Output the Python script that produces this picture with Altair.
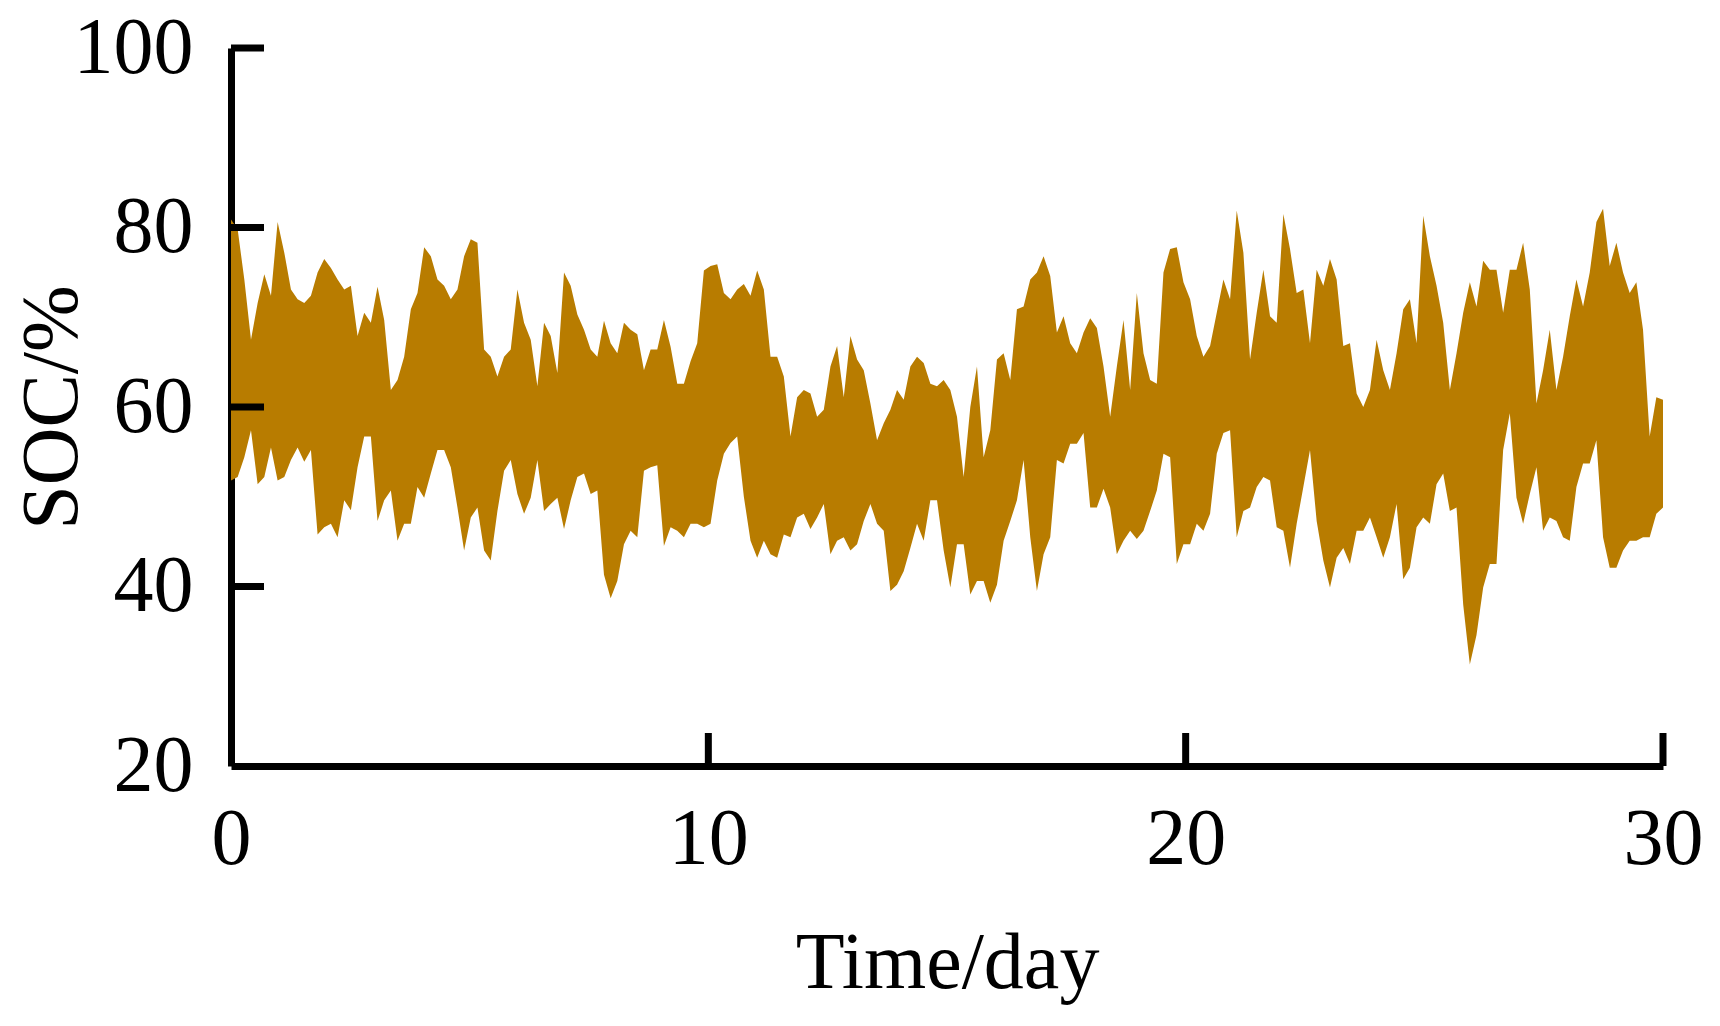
import altair as alt
import numpy as np
import pandas as pd

# Upper and lower envelope of the (very dense) SOC trace
soc_upper = [
    80.9, 79.8, 74.2, 67.5, 71.6, 74.8, 72.4, 80.6, 77.2, 73.1, 72.0, 71.6, 72.4, 75.0, 76.5, 75.5, 74.2, 73.1,
    73.5, 67.9, 70.5, 69.4, 73.4, 69.7, 61.9, 63.0, 65.6, 70.9, 72.7, 77.8, 76.8, 74.2, 73.5, 72.0, 73.1, 76.8,
    78.7, 78.3, 66.4, 65.6, 63.4, 65.6, 66.4, 73.1, 69.4, 67.5, 62.3, 69.4, 67.9, 63.8, 75.0, 73.5, 70.3, 68.6,
    66.4, 65.6, 69.6, 67.1, 66.0, 69.4, 68.6, 68.1, 64.1, 66.4, 66.4, 69.7, 66.7, 62.6, 62.6, 65.1, 67.1, 75.2,
    75.7, 75.9, 72.7, 72.0, 73.1, 73.7, 72.4, 75.2, 73.1, 65.6, 65.6, 63.4, 56.7, 61.1, 61.9, 61.5, 58.9, 59.7,
    64.5, 66.8, 61.1, 67.9, 65.3, 64.1, 60.4, 56.3, 58.2, 59.7, 61.9, 60.8, 64.5, 65.6, 64.9, 62.6, 62.3, 63.0,
    61.9, 58.9, 52.2, 60.0, 64.5, 54.4, 57.4, 65.3, 66.0, 63.0, 70.9, 71.2, 74.2, 75.0, 76.8, 74.6, 68.3, 70.1,
    67.1, 66.0, 68.3, 69.9, 68.8, 64.5, 58.9, 64.5, 69.7, 61.9, 72.7, 66.0, 63.0, 62.6, 75.0, 77.6, 77.8, 73.9,
    72.0, 67.9, 65.6, 66.8, 70.5, 74.2, 72.0, 81.9, 77.2, 65.3, 70.5, 75.3, 70.1, 69.4, 81.5, 77.6, 72.7, 73.1,
    67.1, 75.3, 73.5, 76.5, 74.2, 66.8, 67.1, 61.5, 60.0, 61.9, 67.5, 64.1, 61.9, 66.0, 70.9, 72.0, 67.1, 81.3,
    76.8, 73.5, 69.4, 61.9, 66.0, 70.5, 73.9, 71.2, 76.3, 75.3, 75.3, 70.5, 75.3, 75.3, 78.3, 73.1, 60.4, 64.1,
    68.6, 61.9, 65.6, 70.1, 74.2, 71.2, 75.0, 80.6, 82.1, 75.7, 78.3, 75.0, 72.7, 73.9, 68.6, 56.7, 61.1, 60.8,
]
soc_lower = [
    51.8, 52.2, 54.4, 57.4, 51.4, 52.2, 55.5, 51.8, 52.2, 54.1, 55.5, 53.9, 55.2, 45.8, 46.6, 47.0, 45.5, 49.6,
    48.5, 53.3, 56.7, 56.7, 47.3, 49.6, 50.7, 45.1, 47.0, 47.0, 51.1, 49.9, 52.6, 55.2, 55.2, 53.3, 48.8, 44.0,
    47.7, 48.8, 44.0, 42.9, 48.4, 52.9, 54.1, 50.3, 48.1, 49.9, 54.1, 48.4, 49.2, 49.9, 46.4, 49.6, 52.2, 52.6,
    50.3, 50.7, 41.3, 38.7, 40.6, 44.7, 46.2, 45.5, 52.9, 53.3, 53.5, 44.5, 46.6, 46.2, 45.5, 47.0, 47.0, 46.6,
    47.0, 51.8, 54.8, 56.0, 56.7, 50.0, 45.1, 43.2, 45.1, 43.6, 43.2, 45.8, 45.5, 47.7, 48.1, 46.4, 47.7, 49.2,
    43.6, 45.1, 45.5, 44.0, 44.7, 47.3, 49.2, 47.0, 46.2, 39.5, 40.2, 41.7, 44.3, 47.0, 45.1, 49.6, 49.6, 44.0,
    39.9, 44.7, 44.7, 39.1, 40.6, 40.6, 38.2, 40.2, 45.1, 47.3, 49.6, 54.1, 45.5, 39.5, 43.6, 45.5, 54.1, 53.7,
    55.9, 55.9, 57.1, 48.8, 48.8, 50.9, 48.8, 43.6, 45.1, 46.2, 45.3, 46.2, 48.4, 50.7, 54.8, 54.4, 42.5, 44.7,
    44.7, 47.0, 46.2, 48.1, 54.8, 57.1, 57.4, 45.5, 48.4, 48.8, 51.1, 52.2, 51.8, 46.6, 46.2, 42.1, 47.0, 51.1,
    55.2, 47.3, 42.9, 39.9, 43.2, 44.3, 42.5, 46.2, 46.2, 47.7, 45.5, 43.2, 45.5, 49.2, 40.8, 42.1, 46.6, 47.7,
    47.0, 51.4, 52.6, 48.4, 48.8, 38.0, 31.3, 34.6, 39.9, 42.5, 42.5, 55.2, 59.3, 49.9, 47.0, 50.3, 53.3, 46.2,
    47.7, 47.3, 45.5, 45.1, 51.1, 53.7, 53.7, 56.3, 45.5, 42.1, 42.1, 44.0, 45.1, 45.1, 45.5, 45.5, 48.1, 48.8,
]
time_day = np.linspace(0, 30, len(soc_upper))

x_ticks = [0, 10, 20, 30]
y_ticks = [20, 40, 60, 80, 100]
x_inner_ticks = [10, 20, 30]
y_inner_ticks = [40, 60, 80, 100]

df = pd.DataFrame({"t": time_day, "hi": soc_upper, "lo": soc_lower})
df_xt = pd.DataFrame({"t": x_inner_ticks})
df_yt = pd.DataFrame({"hi": y_inner_ticks})

W, H = 1432, 718
FONT = "Liberation Serif"
COLOR = "#B87C00"
TICK_LEN = 33
LW = 7

xscale = alt.Scale(domain=[0, 30], nice=False, zero=False)
yscale = alt.Scale(domain=[20, 100], nice=False, zero=False)

x_axis = alt.Axis(
    values=x_ticks, title="Time/day", format="d",
    ticks=False, tickSize=0, grid=False,
    domainColor="black", domainWidth=LW,
    labelFont=FONT, labelFontSize=80, labelColor="black", labelPadding=34,
    labelFlush=False, labelOverlap=False,
    titleFont=FONT, titleFontSize=80, titleFontWeight="normal", titleColor="black",
    titleX=W / 2, titleY=221, titleBaseline="alphabetic", titleAlign="center",
)
y_axis = alt.Axis(
    values=y_ticks, title="SOC/%", format="d",
    ticks=False, tickSize=0, grid=False,
    domainColor="black", domainWidth=LW,
    labelFont=FONT, labelFontSize=80, labelColor="black", labelPadding=38,
    labelFlush=False, labelOverlap=False,
    titleFont=FONT, titleFontSize=80, titleFontWeight="normal", titleColor="black",
    titleX=-155, titleY=H / 2, titleBaseline="alphabetic", titleAlign="center", titleAngle=270,
)

band = alt.Chart(df).mark_area(color=COLOR, opacity=1).encode(
    x=alt.X("t:Q", scale=xscale, axis=x_axis),
    y=alt.Y("hi:Q", scale=yscale, axis=y_axis),
    y2="lo:Q",
)

yt = alt.Chart(df_yt).mark_rule(color="black", strokeWidth=LW).encode(
    y=alt.Y("hi:Q", scale=yscale, axis=y_axis),
    x=alt.value(0),
    x2=alt.value(TICK_LEN),
)
xt = alt.Chart(df_xt).mark_rule(color="black", strokeWidth=LW).encode(
    x=alt.X("t:Q", scale=xscale, axis=x_axis),
    y=alt.value(H),
    y2=alt.value(H - TICK_LEN),
)

chart = alt.layer(band, yt, xt).properties(
    width=W, height=H,
    padding={"left": 223, "top": 40, "right": 40, "bottom": 250},
    autosize=alt.AutoSizeParams(type="none"),
    background="white",
).configure_view(stroke=None)

chart.save("out.html", embed_options={"renderer": "svg", "actions": False})
